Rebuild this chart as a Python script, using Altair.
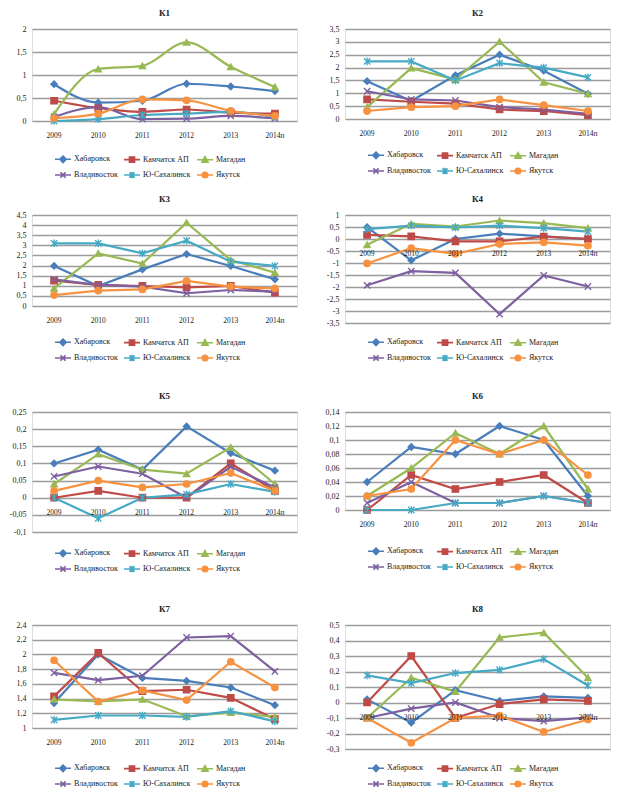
import altair as alt
import pandas as pd

years = ["2009", "2010", "2011", "2012", "2013", "2014п"]
series = ["Хабаровск", "Камчатск АП", "Магадан", "Владивосток", "Ю-Сахалинск", "Якутск"]
colors = ["#4A7EBB", "#BE4B48", "#98B954", "#7D60A0", "#46AAC5", "#F69240"]

# values per panel, rows follow `series`
k1 = [[0.80, 0.40, 0.44, 0.81, 0.75, 0.65],
      [0.44, 0.28, 0.20, 0.25, 0.18, 0.16],
      [0.15, 1.13, 1.20, 1.71, 1.18, 0.74],
      [0.09, 0.30, 0.04, 0.05, 0.11, 0.06],
      [0.00, 0.04, 0.13, 0.16, 0.20, 0.09],
      [0.06, 0.16, 0.47, 0.45, 0.22, 0.11]]
k2 = [[1.47, 0.70, 1.70, 2.50, 1.88, 0.98],
      [0.76, 0.67, 0.60, 0.37, 0.31, 0.15],
      [0.46, 1.98, 1.53, 3.01, 1.43, 0.98],
      [1.08, 0.76, 0.72, 0.46, 0.37, 0.20],
      [2.24, 2.24, 1.50, 2.17, 2.00, 1.62],
      [0.31, 0.46, 0.50, 0.76, 0.54, 0.31]]
k3 = [[1.98, 0.99, 1.81, 2.57, 1.98, 1.32],
      [1.25, 1.04, 0.99, 0.92, 0.99, 0.66],
      [0.87, 2.60, 2.10, 4.12, 2.27, 1.65],
      [1.32, 1.04, 0.96, 0.63, 0.79, 0.71],
      [3.10, 3.10, 2.60, 3.23, 2.19, 1.98],
      [0.54, 0.76, 0.82, 1.24, 0.96, 0.87]]
k4 = [[0.49, -0.89, 0.00, 0.22, 0.11, 0.00],
      [0.17, 0.11, -0.10, -0.10, 0.10, 0.00],
      [-0.24, 0.63, 0.52, 0.77, 0.66, 0.45],
      [-1.93, -1.34, -1.41, -3.13, -1.52, -1.98],
      [0.41, 0.56, 0.48, 0.56, 0.45, 0.31],
      [-1.02, -0.38, -0.62, -0.21, -0.14, -0.28]]
k5 = [[0.100, 0.140, 0.082, 0.208, 0.130, 0.079],
      [0.000, 0.020, 0.000, 0.000, 0.100, 0.020],
      [0.040, 0.127, 0.082, 0.070, 0.147, 0.040],
      [0.062, 0.091, 0.070, 0.000, 0.090, 0.030],
      [0.000, -0.060, 0.000, 0.010, 0.040, 0.017],
      [0.020, 0.050, 0.030, 0.040, 0.072, 0.020]]
k6 = [[0.04, 0.09, 0.08, 0.12, 0.10, 0.02],
      [0.00, 0.05, 0.03, 0.04, 0.05, 0.01],
      [0.02, 0.06, 0.11, 0.08, 0.12, 0.03],
      [0.01, 0.04, 0.01, 0.01, 0.02, 0.01],
      [0.00, 0.00, 0.01, 0.01, 0.02, 0.01],
      [0.02, 0.03, 0.10, 0.08, 0.10, 0.05]]
k7 = [[1.34, 2.00, 1.68, 1.64, 1.55, 1.31],
      [1.43, 2.02, 1.50, 1.52, 1.41, 1.12],
      [1.39, 1.36, 1.39, 1.16, 1.21, 1.15],
      [1.75, 1.65, 1.71, 2.23, 2.25, 1.77],
      [1.11, 1.17, 1.17, 1.15, 1.23, 1.09],
      [1.92, 1.36, 1.51, 1.38, 1.90, 1.55]]
k8 = [[0.02, -0.13, 0.08, 0.01, 0.04, 0.03],
      [0.00, 0.30, -0.10, -0.01, 0.02, 0.01],
      [-0.10, 0.16, 0.07, 0.42, 0.45, 0.16],
      [-0.10, -0.04, 0.00, -0.10, -0.12, -0.095],
      [0.175, 0.125, 0.19, 0.21, 0.28, 0.11],
      [-0.10, -0.26, -0.10, -0.085, -0.19, -0.11]]

# y-axis tick labels per panel
t1 = [0, 0.5, 1, 1.5, 2]
t2 = [0, 0.5, 1, 1.5, 2, 2.5, 3, 3.5]
t3 = [0, 0.5, 1, 1.5, 2, 2.5, 3, 3.5, 4, 4.5]
t4 = [-3.5, -3, -2.5, -2, -1.5, -1, -0.5, 0, 0.5, 1]
t5 = [-0.1, -0.05, 0, 0.05, 0.1, 0.15, 0.2, 0.25]
t6 = [0, 0.02, 0.04, 0.06, 0.08, 0.1, 0.12, 0.14]
t7 = [1, 1.2, 1.4, 1.6, 1.8, 2, 2.2, 2.4]
t8 = [-0.3, -0.2, -0.1, 0, 0.1, 0.2, 0.3, 0.4, 0.5]

FONT = "Liberation Serif"
marker_shapes = ["diamond", "square", "triangle-up",
                 "M-1,-1L1,1M-1,1L1,-1",
                 "M-1,-1L1,1M-1,1L1,-1M0,-1.2L0,1.2",
                 "circle"]
legend_shapes = [
    "M-1,0L1,0M0,-0.4L0.4,0L0,0.4L-0.4,0Z",
    "M-1,0L1,0M-0.32,-0.32L0.32,-0.32L0.32,0.32L-0.32,0.32Z",
    "M-1,0L1,0M0,-0.38L0.38,0.3L-0.38,0.3Z",
    "M-1,0L1,0M-0.32,-0.32L0.32,0.32M-0.32,0.32L0.32,-0.32",
    "M-1,0L1,0M-0.32,-0.32L0.32,0.32M-0.32,0.32L0.32,-0.32M0,-0.4L0,0.4",
    "M-1,0L1,0M-0.35,0A0.35,0.35,0,1,1,0.35,0A0.35,0.35,0,1,1,-0.35,0Z",
]


def panel(title, values, ticks, height, baseline, legend_gap, smooth=False):
    rows = []
    for s, vals in zip(series, values):
        for yr, v in zip(years, vals):
            rows.append({"year": yr, "series": s, "value": v})
    df = pd.DataFrame(rows)
    lab = pd.DataFrame({"year": years})

    xenc = alt.X("year:N", sort=years, scale=alt.Scale(type="point", padding=0.5), axis=None)
    yaxis = alt.Axis(values=ticks, title=None, domain=False, ticks=False, grid=True,
                     gridColor="#9c9c9c", gridWidth=1.4,
                     labelExpr="replace(toString(datum.value), '.', ',')",
                     labelFont=FONT, labelFontSize=8, labelColor="#222",
                     labelPadding=6, minExtent=22, maxExtent=22)
    yscale = alt.Scale(domain=[ticks[0], ticks[-1]], nice=False, zero=False)
    yenc = alt.Y("value:Q", scale=yscale, axis=yaxis)

    base = alt.Chart(df)
    line = base.mark_line(strokeWidth=2.2, interpolate="monotone" if smooth else "linear").encode(
        x=xenc, y=yenc,
        color=alt.Color("series:N", scale=alt.Scale(domain=series, range=colors), legend=None),
    )
    pts = base.mark_point(size=40, strokeWidth=1.4, opacity=1).encode(
        x=xenc, y=yenc,
        fill=alt.Fill("series:N", scale=alt.Scale(domain=series, range=colors), legend=None),
        stroke=alt.Stroke("series:N", scale=alt.Scale(domain=series, range=colors), legend=None),
        shape=alt.Shape("series:N", scale=alt.Scale(domain=series, range=marker_shapes), legend=None),
    )
    xlabels = alt.Chart(lab).mark_text(font=FONT, fontSize=7.5, color="#222", dy=15).encode(
        x=xenc, y=alt.Y(datum=baseline, type="quantitative", scale=yscale, axis=yaxis),
        text="year:N",
    )
    leg = alt.Legend(title=None, orient="none", legendX=22, legendY=height + legend_gap,
                     columns=3, direction="horizontal", symbolSize=256, symbolStrokeWidth=1.6,
                     labelFont=FONT, labelFontSize=8, labelColor="#222",
                     columnPadding=2, rowPadding=0, labelOffset=2, padding=0)
    legend_layer = base.transform_filter("false").mark_point(size=30, opacity=1).encode(
        fill=alt.Fill("series:N", scale=alt.Scale(domain=series, range=colors), legend=leg),
        stroke=alt.Stroke("series:N", scale=alt.Scale(domain=series, range=colors), legend=leg),
        shape=alt.Shape("series:N", scale=alt.Scale(domain=series, range=legend_shapes), legend=leg),
    )
    return alt.layer(line, pts, xlabels, legend_layer).properties(
        width=265, height=height,
        title=alt.TitleParams(text=title, font=FONT, fontSize=9, fontWeight="bold",
                              color="#222", offset=7, anchor="middle"),
    ).resolve_scale(color="independent", fill="independent", stroke="independent",
                    shape="independent")


p1 = panel("К1", k1, t1, 92, 0, 29, smooth=True)
p2 = panel("К2", k2, t2, 90, 0, 27)
p3 = panel("К3", k3, t3, 91, 0, 27)
p4 = panel("К4", k4, t4, 108, 0, 10)
p5 = panel("К5", k5, t5, 120, 0, 12)
p6 = panel("К6", k6, t6, 98, 0, 32)
p7 = panel("К7", k7, t7, 103, 1, 31)
p8 = panel("К8", k8, t8, 124, 0, 10)

row1 = alt.hconcat(p1, p2, spacing=24)
row2 = alt.hconcat(p3, p4, spacing=24)
row3 = alt.hconcat(p5, p6, spacing=24)
row4 = alt.hconcat(p7, p8, spacing=24)

chart = alt.vconcat(
    row1,
    alt.vconcat(row2, alt.vconcat(row3, row4, spacing=27), spacing=25),
    spacing=11,
).properties(padding=0).configure_view(stroke=None).configure(background="white")

chart.save("out.html", embed_options={"renderer": "svg", "actions": False})
